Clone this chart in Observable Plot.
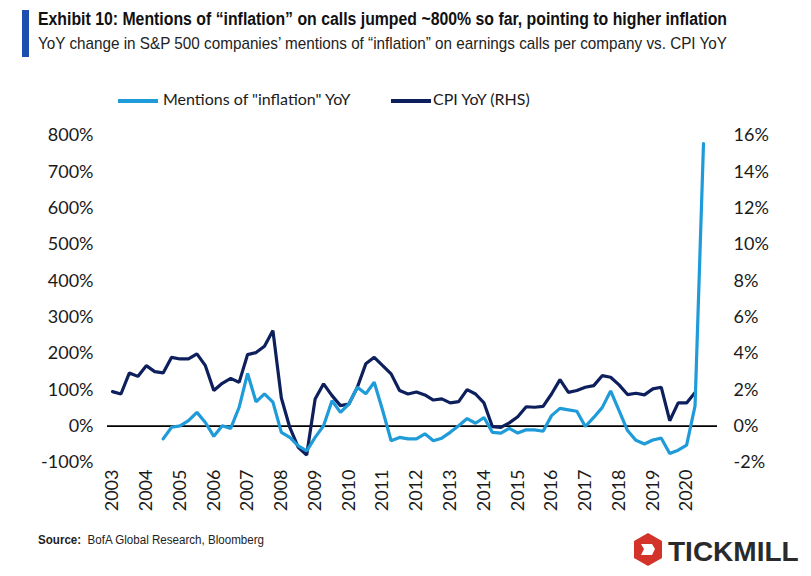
<!DOCTYPE html>
<html>
<head>
<meta charset="utf-8">
<script src="https://cdn.jsdelivr.net/npm/d3@7"></script>
<script src="https://cdn.jsdelivr.net/npm/@observablehq/plot@0.6"></script>
<style>
  html, body { margin: 0; padding: 0; background: #fff; }
  #wrap { position: relative; width: 811px; height: 576px; background: #fff; font-family: Lato, "Open Sans", sans-serif; color: #1a1a1a; overflow: hidden; }
  #bar { position: absolute; left: 22px; top: 10px; width: 7px; height: 47px; background: #1d4fae; }
  .fit { position: absolute; left: 38px; white-space: nowrap; transform-origin: 0 50%; display: inline-block; }
  #title { top: 9px; font-family: "Liberation Sans", Arial, sans-serif; font-weight: bold; font-size: 18px; color: #111; }
  #subtitle { top: 34px; font-family: "Liberation Sans", Arial, sans-serif; font-size: 17px; color: #222; }
  #legend { position: absolute; top: 89px; left: 0; width: 811px; height: 24px; font-size: 16px; }
  .sw { position: absolute; top: 10px; height: 4px; }
  .lt { position: absolute; top: 0; white-space: nowrap; color: #1a1a1a; }
  #chart { position: absolute; left: 0; top: 120px; }
  #source { top: 533px; font-family: "Liberation Sans", Arial, sans-serif; font-size: 12.5px; color: #222; }
  #logo { position: absolute; left: 632px; top: 532px; }
</style>
</head>
<body>
<div id="wrap">
  <div id="bar"></div>
  <div id="title" class="fit" data-w="689">Exhibit 10: Mentions of “inflation” on calls jumped ~800% so far, pointing to higher inflation</div>
  <div id="subtitle" class="fit" data-w="689">YoY change in S&amp;P 500 companies’ mentions of “inflation” on earnings calls per company vs. CPI YoY</div>
  <div id="legend"></div>
  <div id="chart"></div>
  <div id="source" class="fit" data-w="226"><b>Source:</b>&nbsp; BofA Global Research, Bloomberg</div>
  <svg id="logo" width="175" height="36" viewBox="0 0 175 36">
    <path d="M16 1 L30 9 L30 26 L16 34 L2 26 L2 9 Z" fill="#d4332a"/>
    <path d="M9 12 L20 12 L23 17 L20 23 L9 23 L12 17 Z" fill="#fff"/>
    <text x="36" y="29" font-family="Liberation Sans, Arial, sans-serif" font-weight="bold" font-size="28" fill="#2a2a2a">TICKMILL</text>
  </svg>
</div>
<script>
// ---- data (quarterly, first quarter 2003 onward) ----
const startYear = 2003;
// CPI YoY (%), right-hand scale
const cpiYoY = [
  1.90, 1.77, 2.93, 2.74, 3.33, 3.00, 2.93, 3.79, 3.70, 3.70,
  3.98, 3.33, 1.96, 2.36, 2.63, 2.41, 3.94, 4.05, 4.40, 5.26,
  1.55, -0.07, -1.17, -1.59, 1.50, 2.33, 1.68, 1.13, 1.22, 2.14,
  3.43, 3.79, 3.33, 2.88, 1.96, 1.77, 1.88, 1.72, 1.44, 1.50,
  1.28, 1.35, 2.01, 1.77, 1.28, -0.03, -0.07, 0.18, 0.52, 1.07,
  1.04, 1.09, 1.77, 2.56, 1.86, 1.96, 2.14, 2.23, 2.78, 2.69,
  2.27, 1.74, 1.81, 1.72, 2.05, 2.14, 0.30, 1.28, 1.28, 1.86
];
// Mentions of "inflation" YoY (%), left-hand scale
const mentionsYoY = [
  null, null, null, null, null, null, -35, -3, 1, 15,
  38, 10, -28, 1, -6, 52, 145, 67, 89, 66,
  -17, -31, -54, -68, -31, 1, 70, 38, 61, 107,
  89, 121, 43, -40, -31, -35, -35, -21, -40, -33,
  -17, 1, 21, 8, 24, -17, -19, -6, -19, -10,
  -10, -14, 29, 49, 45, 41, -1, 24, 51, 97,
  43, -12, -39, -49, -38, -33, -75, -66, -52, 56,
  778
];
const yearTicks = [2003, 2004, 2005, 2006, 2007, 2008, 2009, 2010, 2011, 2012, 2013, 2014, 2015, 2016, 2017, 2018, 2019, 2020];
const leftTicks = [-100, 0, 100, 200, 300, 400, 500, 600, 700, 800];
const rightTicks = [-2, 0, 2, 4, 6, 8, 10, 12, 14, 16];
const rhsFactor = 50; // 1% CPI = 50% on left scale (16% ↔ 800%)

const seriesNames = ['Mentions of "inflation" YoY', "CPI YoY (RHS)"];
const colors = ["#1e9bd8", "#0d1f5c"];

// ---- build tables ----
const t = i => startYear + i / 4;
const mentions = mentionsYoY.map((v, i) => ({t: t(i), v})).filter(d => d.v != null);
const cpi = cpiYoY.map((v, i) => ({t: t(i), v: v * rhsFactor}));

// ---- fit header/footer text widths ----
document.querySelectorAll(".fit").forEach(el => {
  const w = el.getBoundingClientRect().width;
  const target = +el.dataset.w;
  el.style.transform = `scaleX(${target / w})`;
});

// ---- legend ----
const legend = document.getElementById("legend");
legend.innerHTML = `
  <div class="sw" style="left:118px;width:40px;background:${colors[0]}"></div>
  <div class="lt" style="left:163px">${seriesNames[0]}</div>
  <div class="sw" style="left:391px;width:40px;background:${colors[1]}"></div>
  <div class="lt" style="left:433px">${seriesNames[1]}</div>`;

// ---- chart ----
const chart = Plot.plot({
  width: 811,
  height: 400,
  marginLeft: 112,
  marginRight: 108,
  marginTop: 15,
  marginBottom: 58,
  style: {fontFamily: "Lato, 'Open Sans', sans-serif", fontSize: "18px", color: "#1a1a1a", background: "transparent"},
  x: {domain: [2003, 2020.5]},
  y: {domain: [-100, 800]},
  marks: [
    Plot.axisY({ticks: leftTicks, tickFormat: d => d + "%", tickSize: 0, tickPadding: 19, anchor: "left", label: null}),
    Plot.axisY({ticks: rightTicks.map(d => d * rhsFactor), tickFormat: d => (d / rhsFactor) + "%", tickSize: 0, tickPadding: 30, anchor: "right", label: null, textAnchor: "start"}),
    Plot.axisX({ticks: yearTicks, tickFormat: d => String(d), tickSize: 0, tickPadding: 7, tickRotate: -90, label: null}),
    Plot.ruleY([0], {stroke: "#000", strokeWidth: 1.6, insetLeft: -5, insetRight: -14}),
    Plot.line(cpi, {x: "t", y: "v", stroke: colors[1], strokeWidth: 3.2, strokeLinejoin: "miter"}),
    Plot.line(mentions, {x: "t", y: "v", stroke: colors[0], strokeWidth: 3.2, strokeLinejoin: "miter"})
  ]
});
document.getElementById("chart").appendChild(chart);
</script>
</body>
</html>
